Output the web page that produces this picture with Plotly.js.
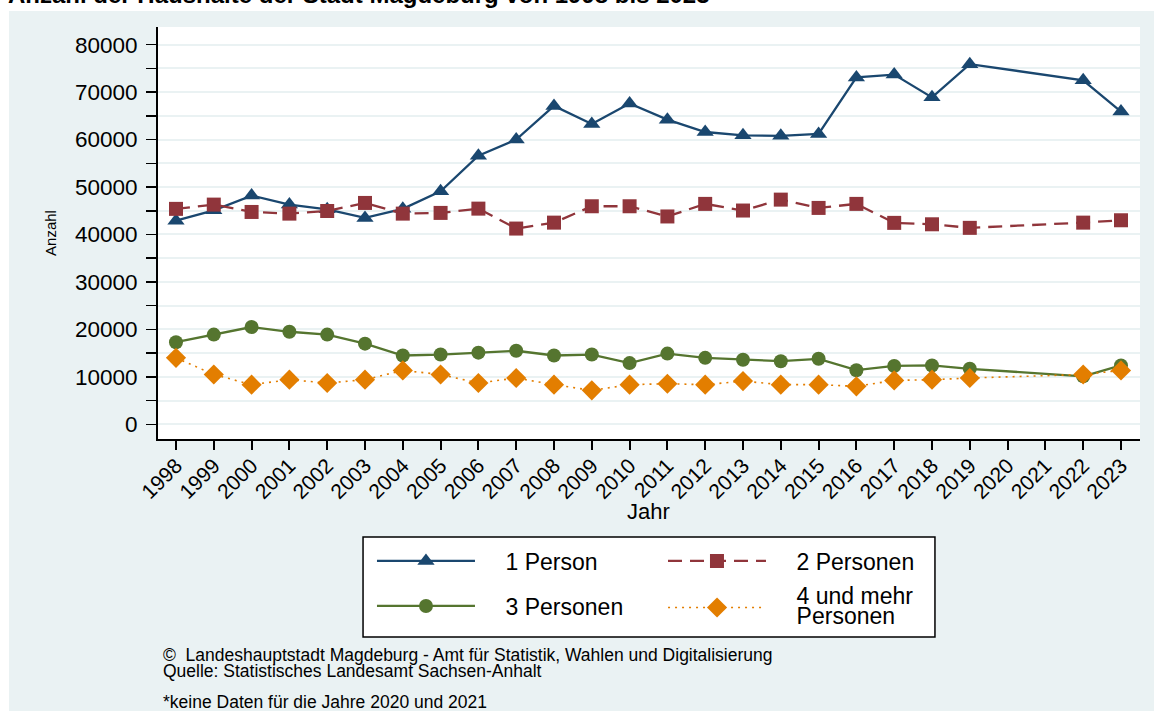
<!DOCTYPE html>
<html>
<head>
<meta charset="utf-8">
<script src="https://cdn.plot.ly/plotly-3.0.1.min.js"></script>
<style>
  html, body { margin: 0; padding: 0; background: #ffffff; }
  #chart { width: 1154px; height: 711px; }
</style>
</head>
<body>
<div id="chart"></div>
<script>
// ---- Data ----
const years = [1998, 1999, 2000, 2001, 2002, 2003, 2004, 2005, 2006, 2007, 2008, 2009,
               2010, 2011, 2012, 2013, 2014, 2015, 2016, 2017, 2018, 2019, 2022, 2023];

const onePerson = [42900, 45100, 48200, 46300, 45300, 43500, 45400, 49100, 56600, 60000, 67100, 63300,
                   67600, 64200, 61600, 60900, 60800, 61200, 73100, 73700, 68900, 75900, 72500, 65900];

const twoPersons = [45400, 46300, 44750, 44400, 44950, 46650, 44400, 44550, 45450, 41250, 42500, 45950,
                    45950, 43800, 46450, 45050, 47350, 45600, 46450, 42450, 42150, 41400, 42500, 43000];

const threePersons = [17300, 18900, 20500, 19500, 18900, 17000, 14500, 14700, 15100, 15500, 14500, 14700,
                      12900, 14900, 14000, 13600, 13300, 13800, 11400, 12300, 12400, 11700, 10100, 12400];

const fourPlus = [14000, 10500, 8350, 9400, 8700, 9400, 11350, 10500, 8700, 9750, 8350, 7150,
                  8350, 8550, 8350, 9100, 8350, 8350, 8000, 9250, 9400, 9750, 10500, 11350];

const seriesNames = ["1 Person", "2 Personen", "3 Personen", "4 und mehr<br>Personen"];

const titleText = "Anzahl der Haushalte der Stadt Magdeburg von 1998 bis 2023";
const xTitle = "Jahr";
const yTitle = "Anzahl";
const footer1 = "©  Landeshauptstadt Magdeburg - Amt für Statistik, Wahlen und Digitalisierung";
const footer2 = "Quelle: Statistisches Landesamt Sachsen-Anhalt";
const footer3 = "*keine Daten für die Jahre 2020 und 2021";

// ---- Styling ----
const FONT = "Liberation Sans, Arial, Helvetica, sans-serif";
const BG = "#eaf2f3";
const GRID = "#eaf2f3";
const pad = "\u00a0\u00a0\u00a0\u00a0";
// each line wrapped in a 23px span so that the (smaller) legend font only sets the line spacing
const legendLabel = s => s.split("<br>").map(l => '<span style="font-size:23px">' + pad + l + '</span>').join("<br>");

const traces = [
  { x: years, y: onePerson, name: legendLabel(seriesNames[0]), legend: "legend",
    mode: "lines+markers", line: { color: "#1a476f", width: 2.3 },
    marker: { symbol: "triangle-up", size: 15, color: "#1a476f" } },
  { x: years, y: twoPersons, name: legendLabel(seriesNames[1]), legend: "legend",
    mode: "lines+markers", line: { color: "#90353b", width: 2.3, dash: "14px,8px" },
    marker: { symbol: "square", size: 14, color: "#90353b" } },
  { x: years, y: threePersons, name: legendLabel(seriesNames[2]), legend: "legend2",
    mode: "lines+markers", line: { color: "#55752f", width: 2.3 },
    marker: { symbol: "circle", size: 14, color: "#55752f" } },
  { x: years, y: fourPlus, name: legendLabel(seriesNames[3]), legend: "legend3",
    mode: "lines+markers", line: { color: "#e37e00", width: 1.6, dash: "2px,5px" },
    marker: { symbol: "diamond", size: 15.5, color: "#e37e00" } }
];

const legendBase = {
  orientation: "h", xanchor: "left", yanchor: "middle", x: 0.2179,
  itemwidth: 98, entrywidth: 178, entrywidthmode: "pixels",
  bgcolor: "rgba(0,0,0,0)", borderwidth: 0, traceorder: "normal",
  font: { family: FONT, size: 23, color: "#000" }, valign: "middle"
};

const layout = {
  width: 1154, height: 711,
  paper_bgcolor: BG, plot_bgcolor: "#ffffff",
  font: { family: FONT, color: "#000" },
  margin: { l: 158, r: 14, t: 27, b: 272, pad: 0 },
  showlegend: true,
  title: { text: "<b>" + titleText + "</b>", x: 8 / 1154, xanchor: "left", xref: "container",
           y: 1 - 3 / 711, yanchor: "bottom", yref: "container",
           font: { family: FONT, size: 24, color: "#000" } },
  xaxis: {
    range: [1997.524, 2023.503], tick0: 1998, dtick: 1, tickformat: "d",
    tickangle: -45, ticks: "outside", ticklen: 9, tickwidth: 2, tickcolor: "#000",
    ticklabelstandoff: -5,
    showline: true, linecolor: "#000", linewidth: 2, mirror: false,
    showgrid: false, zeroline: false,
    tickfont: { family: FONT, size: 21, color: "#000" },
    automargin: false
  },
  yaxis: {
    range: [-3100, 83730], tick0: 0, dtick: 10000, tickformat: "d",
    ticks: "outside", ticklen: 10, tickwidth: 1.5, tickcolor: "#000", ticklabelstandoff: 4,
    showline: true, linecolor: "#000", linewidth: 2,
    showgrid: true, gridcolor: GRID, gridwidth: 2, zeroline: false,
    minor: { dtick: 5000, tick0: 0, ticks: "outside", ticklen: 10, tickwidth: 1.5, tickcolor: "#000",
             showgrid: true, gridcolor: GRID, gridwidth: 2 },
    tickfont: { family: FONT, size: 22.5, color: "#000" },
    title: { text: yTitle, font: { family: FONT, size: 15, color: "#000" }, standoff: 15 },
    automargin: false
  },
  legend: Object.assign({}, legendBase, { y: -0.2961 }),
  legend2: Object.assign({}, legendBase, { y: -0.4053 }),
  legend3: Object.assign({}, legendBase, { x: 0.5143, y: -0.4102, font: { family: FONT, size: 15.4, color: "#000" } }),
  shapes: [
    // white strip at top of the image (outside the graph region)
    { type: "rect", xref: "paper", yref: "paper", x0: -0.2, x1: 1.1, y0: 1.0388, y1: 1.2,
      fillcolor: "#ffffff", line: { width: 0 }, layer: "above" },
    // white strip on the left edge
    { type: "rect", xref: "paper", yref: "paper", x0: -0.2, x1: -0.1517, y0: -1, y1: 1.2,
      fillcolor: "#ffffff", line: { width: 0 }, layer: "above" },
    // legend box
    { type: "rect", xref: "paper", yref: "paper", x0: 0.2088, x1: 0.7912, y0: -0.4806, y1: -0.2379,
      fillcolor: "#ffffff", line: { color: "#000", width: 1.5 }, layer: "above" }
  ],
  annotations: [
    { text: xTitle, xref: "paper", yref: "paper", x: 0.499, y: -0.1748, xanchor: "center", yanchor: "middle",
      showarrow: false, font: { family: FONT, size: 22, color: "#000" } },
    { text: footer1, xref: "paper", yref: "paper", x: 0.0031, y: -0.5243, xanchor: "left", yanchor: "middle",
      showarrow: false, font: { family: FONT, size: 17.5, color: "#000" } },
    { text: footer2, xref: "paper", yref: "paper", x: 0.0031, y: -0.5631, xanchor: "left", yanchor: "middle",
      showarrow: false, font: { family: FONT, size: 17.5, color: "#000" } },
    { text: footer3, xref: "paper", yref: "paper", x: 0.0031, y: -0.6384, xanchor: "left", yanchor: "middle",
      showarrow: false, font: { family: FONT, size: 17.5, color: "#000" } }
  ]
};

Plotly.newPlot("chart", traces, layout, { displayModeBar: false, staticPlot: true });
</script>
</body>
</html>
